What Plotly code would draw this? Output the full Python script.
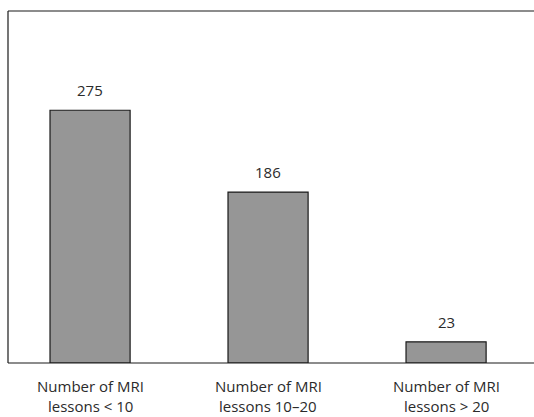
import plotly.graph_objects as go

# Survey counts by number of MRI lessons attended
line1 = ["Number of MRI", "Number of MRI", "Number of MRI"]
line2 = ["lessons < 10", "lessons 10–20", "lessons > 20"]
counts = [275, 186, 23]

FONT = "'Open Sans', sans-serif"
TEXT_COLOR = "#2b2b2b"
positions = list(range(len(counts)))

fig = go.Figure(
    go.Bar(
        x=positions,
        y=counts,
        width=0.45,
        marker=dict(color="#969696", line=dict(color="#1a1a1a", width=1.2)),
        hoverinfo="skip",
    )
)

# Value labels above each bar
for i, v in zip(positions, counts):
    fig.add_annotation(
        x=i, y=v, text=str(v), showarrow=False, yanchor="bottom", yshift=8,
        font=dict(family=FONT, size=15, color=TEXT_COLOR),
    )

# Two-line category labels under the axis
for i, a, b in zip(positions, line1, line2):
    fig.add_annotation(x=i, y=0, yref="paper", text=a, showarrow=False,
                       yanchor="middle", yshift=-23, borderpad=0,
                       font=dict(family=FONT, size=15, color=TEXT_COLOR))
    fig.add_annotation(x=i, y=0, yref="paper", text=b, showarrow=False,
                       yanchor="middle", yshift=-43, borderpad=0,
                       font=dict(family=FONT, size=15, color=TEXT_COLOR))

# Frame lines: left, top, bottom (right side runs off the page)
line = dict(color="#1a1a1a", width=1.2)
fig.add_shape(type="line", xref="paper", yref="paper", x0=0, x1=0, y0=0, y1=1, line=line)
fig.add_shape(type="line", xref="paper", yref="paper", x0=0, x1=1.02, y0=1, y1=1, line=line)
fig.add_shape(type="line", xref="paper", yref="paper", x0=0, x1=1.02, y0=0, y1=0, line=line)

fig.update_layout(
    width=534, height=417,
    margin=dict(l=8, r=0, t=11, b=54),
    paper_bgcolor="white", plot_bgcolor="white",
    showlegend=False,
    font=dict(family=FONT, size=15, color=TEXT_COLOR),
    xaxis=dict(
        range=[-0.461, 2.494],
        showgrid=False, zeroline=False, showline=False, ticks="",
        showticklabels=False,
    ),
    yaxis=dict(range=[0, 383], showgrid=False, zeroline=False, showline=False,
               showticklabels=False, ticks=""),
)

fig.write_html("out.html")
